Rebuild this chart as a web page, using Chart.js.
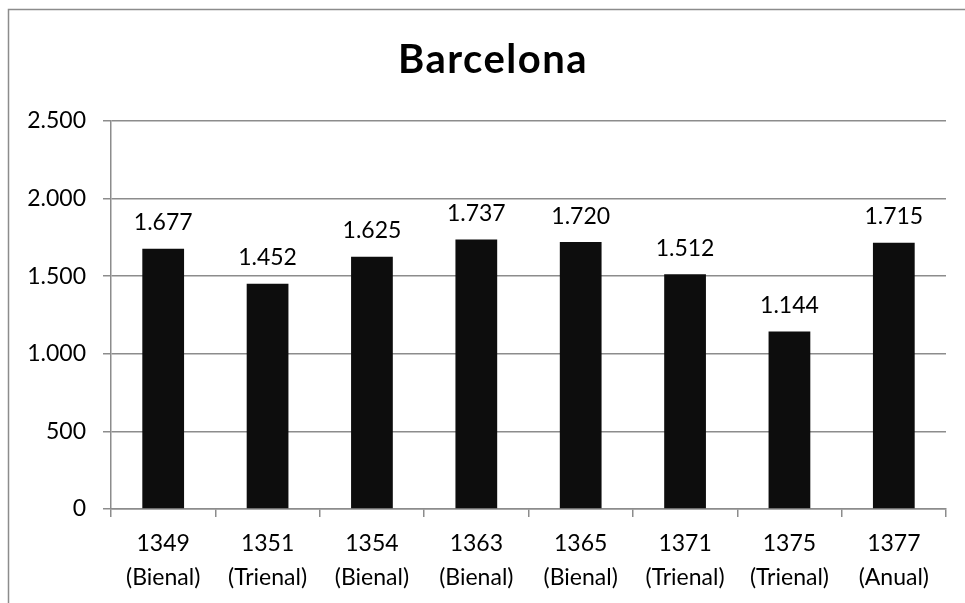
<!DOCTYPE html>
<html>
<head>
<meta charset="utf-8">
<script src="https://cdn.jsdelivr.net/npm/chart.js@4/dist/chart.umd.min.js"></script>
<style>
  html, body { margin: 0; padding: 0; background: #fff; }
  #wrap { width: 965px; height: 603px; position: relative; }
</style>
</head>
<body>
<div id="wrap"><canvas id="c" width="965" height="603"></canvas></div>
<script>
// Barcelona: annual figures by year and type of record
const years = ['1349', '1351', '1354', '1363', '1365', '1371', '1375', '1377'];
const periods = ['(Bienal)', '(Trienal)', '(Bienal)', '(Bienal)', '(Bienal)', '(Trienal)', '(Trienal)', '(Anual)'];
const values = [1677, 1452, 1625, 1737, 1720, 1512, 1144, 1715];
const yTickValues = [0, 500, 1000, 1500, 2000, 2500];
const chartTitle = 'Barcelona';

const FONT = 'Lato, "Open Sans", sans-serif';
const GRID = '#8c8c8c';

// thousands separated with a dot: 1677 -> "1.677"
function fmt(v) {
  return String(Math.round(v)).replace(/\B(?=(\d{3})+(?!\d))/g, '.');
}

const frame = {
  id: 'frame',
  beforeDraw(chart) {
    const ctx = chart.ctx;
    ctx.save();
    ctx.fillStyle = '#fff';
    ctx.fillRect(0, 0, chart.width, chart.height);
    ctx.strokeStyle = GRID;
    ctx.lineWidth = 1.5;
    ctx.beginPath();
    ctx.moveTo(8.5, chart.height);
    ctx.lineTo(8.5, 9.5);
    ctx.lineTo(chart.width, 9.5);
    ctx.stroke();
    ctx.restore();
  },
  afterDraw(chart) {
    const ctx = chart.ctx;
    ctx.save();
    ctx.fillStyle = '#000';
    ctx.font = 'bold 40px ' + FONT;
    if ('letterSpacing' in ctx) ctx.letterSpacing = '1.5px';
    ctx.textAlign = 'center';
    ctx.textBaseline = 'alphabetic';
    ctx.fillText(chartTitle, 493, 73);
    ctx.restore();
  }
};

const valueLabels = {
  id: 'valueLabels',
  afterDatasetsDraw(chart) {
    const ctx = chart.ctx;
    const meta = chart.getDatasetMeta(0);
    ctx.save();
    ctx.fillStyle = '#000';
    ctx.font = '23px ' + FONT;
    ctx.textAlign = 'center';
    ctx.textBaseline = 'alphabetic';
    meta.data.forEach((bar, i) => {
      ctx.fillText(fmt(values[i]), bar.x, bar.y - 18.5);
    });
    ctx.restore();
  }
};

new Chart(document.getElementById('c'), {
  type: 'bar',
  data: {
    labels: years.map((y, i) => [y, periods[i]]),
    datasets: [{
      data: values,
      backgroundColor: '#0d0d0d',
      borderWidth: 0,
      categoryPercentage: 1,
      barPercentage: 0.4
    }]
  },
  options: {
    responsive: false,
    animation: false,
    layout: { padding: { top: 121, left: 0, right: 19, bottom: 0 } },
    plugins: {
      legend: { display: false },
      title: { display: false },
      tooltip: { enabled: false }
    },
    scales: {
      x: {
        grid: { display: true, drawOnChartArea: false, drawTicks: true, tickLength: 8, color: GRID, lineWidth: 1.5 },
        border: { display: true, color: GRID, width: 1.5 },
        ticks: {
          color: '#000',
          font: { family: FONT, size: 23, lineHeight: 1.5 },
          padding: 9,
          maxRotation: 0,
          autoSkip: false
        },
        afterFit(scale) { scale.height = 94; }
      },
      y: {
        min: 0,
        max: 2500,
        afterBuildTicks(scale) { scale.ticks = yTickValues.map(v => ({ value: v })); },
        grid: { color: GRID, lineWidth: 1.5, tickLength: 8, drawTicks: true },
        border: { display: true, color: GRID, width: 1.5 },
        ticks: {
          color: '#000',
          font: { family: FONT, size: 23 },
          padding: 17,
          callback: (v) => fmt(v)
        },
        afterFit(scale) { scale.width = 111; }
      }
    }
  },
  plugins: [frame, valueLabels]
});
</script>
</body>
</html>
